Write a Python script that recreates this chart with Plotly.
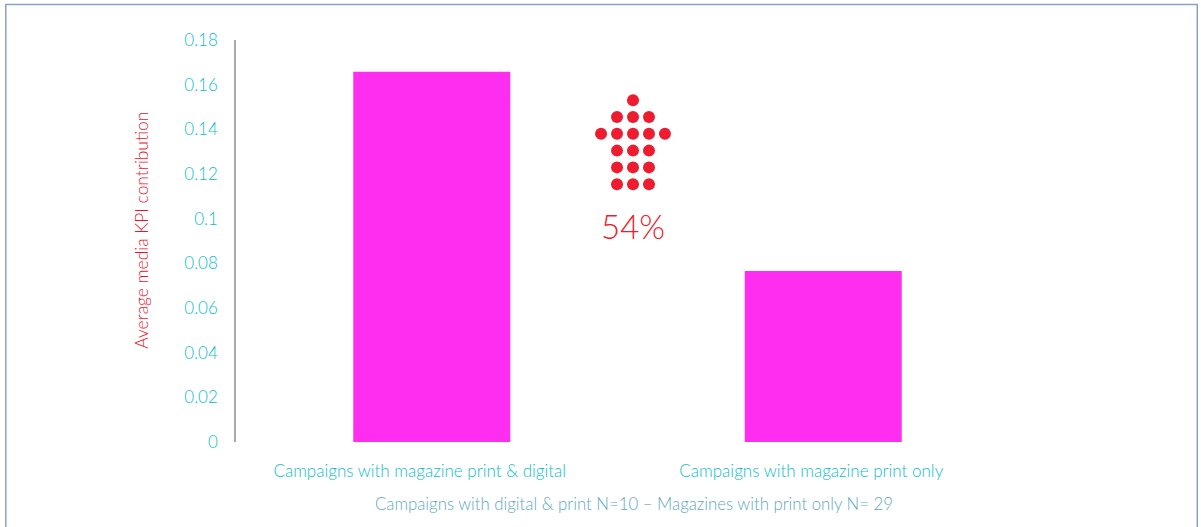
import plotly.graph_objects as go

# Chart values
categories = ["Campaigns with magazine print & digital", "Campaigns with magazine print only"]
kpi_contribution = [0.1658, 0.0766]
tick_values = [0, 0.02, 0.04, 0.06, 0.08, 0.1, 0.12, 0.14, 0.16, 0.18]
tick_labels = ["0", "0.02", "0.04", "0.06", "0.08", "0.1", "0.12", "0.14", "0.16", "0.18"]

# Arrow glyph: dot columns used on each row, counted from the arrow's centre line
arrow_rows = [0, 1, 2, 3, 4, 5]
arrow_cols = [[-1, 0, 1], [-1, 0, 1], [-1, 0, 1], [-2, -1, 0, 1, 2], [-1, 0, 1], [0]]

uplift_label = "54%"
y_title = "Average media KPI contribution"
sample_note = "Campaigns with digital & print N=10 – Magazines with print only N= 29"

W, H = 1201, 527
L, R, T, B = 235.5, 181.5, 39.5, 84.5
PW, PH = W - L - R, H - T - B

TEAL = "#0fbccd"
RED = "#ed1c2e"
FONT = "Lato"


def px(x):
    return (x - L) / PW


def py(y):
    return (H - B - y) / PH


dot_x = [c for row, cols in zip(arrow_rows, arrow_cols) for c in cols]
dot_y = [row for row, cols in zip(arrow_rows, arrow_cols) for c in cols]

fig = go.Figure()
fig.add_bar(
    x=categories,
    y=kpi_contribution,
    width=0.401,
    marker=dict(color="#ff2df0", line=dict(width=0)),
    hoverinfo="skip",
)
fig.add_scatter(
    x=dot_x,
    y=dot_y,
    xaxis="x2",
    yaxis="y2",
    mode="markers",
    marker=dict(color=RED, size=12, line=dict(width=0)),
    hoverinfo="skip",
)

fig.update_layout(
    width=W,
    height=H,
    autosize=False,
    showlegend=False,
    paper_bgcolor="white",
    plot_bgcolor="white",
    margin=dict(l=L, r=R, t=T, b=B, pad=0),
    font=dict(family=FONT),
    xaxis=dict(
        type="category",
        range=[-0.5, 1.5],
        showgrid=False,
        zeroline=False,
        showline=False,
        ticks="",
        ticklabelshift=-12,
        ticklabelstandoff=17,
        tickfont=dict(family=FONT, size=17, color=TEAL, weight=300),
    ),
    yaxis=dict(
        range=[0, 0.18],
        tickvals=tick_values,
        ticktext=tick_labels,
        showgrid=False,
        zeroline=False,
        showline=True,
        linecolor="#a9a9a9",
        linewidth=1.5,
        ticks="",
        ticklabelstandoff=13,
        tickfont=dict(family=FONT, size=17, color=TEAL, weight=300),
    ),
    # Small overlay axes that hold the dot arrow; one unit is one dot pitch
    xaxis2=dict(
        domain=[px(633 - 48), px(633 + 48)],
        range=[-3, 3],
        anchor="y2",
        visible=False,
        fixedrange=True,
    ),
    yaxis2=dict(
        domain=[py(184 + 33.6), py(100 - 16.8)],
        range=[-2, 6],
        anchor="x2",
        visible=False,
        fixedrange=True,
    ),
    annotations=[
        dict(
            text=y_title,
            xref="paper",
            yref="paper",
            x=px(140),
            y=py(230),
            textangle=-90,
            xanchor="center",
            yanchor="middle",
            showarrow=False,
            font=dict(family=FONT, size=17.4, color="#e8142a", weight=300),
        ),
        dict(
            text=uplift_label,
            xref="paper",
            yref="paper",
            x=px(633),
            y=py(226),
            xanchor="center",
            yanchor="middle",
            showarrow=False,
            font=dict(family=FONT, size=33, color=RED, weight=300),
        ),
        dict(
            text=sample_note,
            xref="paper",
            yref="paper",
            x=px(634),
            y=py(504),
            xanchor="center",
            yanchor="middle",
            showarrow=False,
            font=dict(family=FONT, size=16.8, color="#5fa9bf", weight=300),
        ),
    ],
    shapes=[
        # Frame around the chart area, open along the bottom edge
        dict(
            type="path",
            xref="paper",
            yref="paper",
            path=f"M {px(5)} {py(530)} L {px(5)} {py(4)} L {px(1198)} {py(4)} L {px(1198)} {py(530)}",
            line=dict(color="#8aa2c4", width=1.5),
            layer="above",
        ),
    ],
)

fig.write_html("out.html")
